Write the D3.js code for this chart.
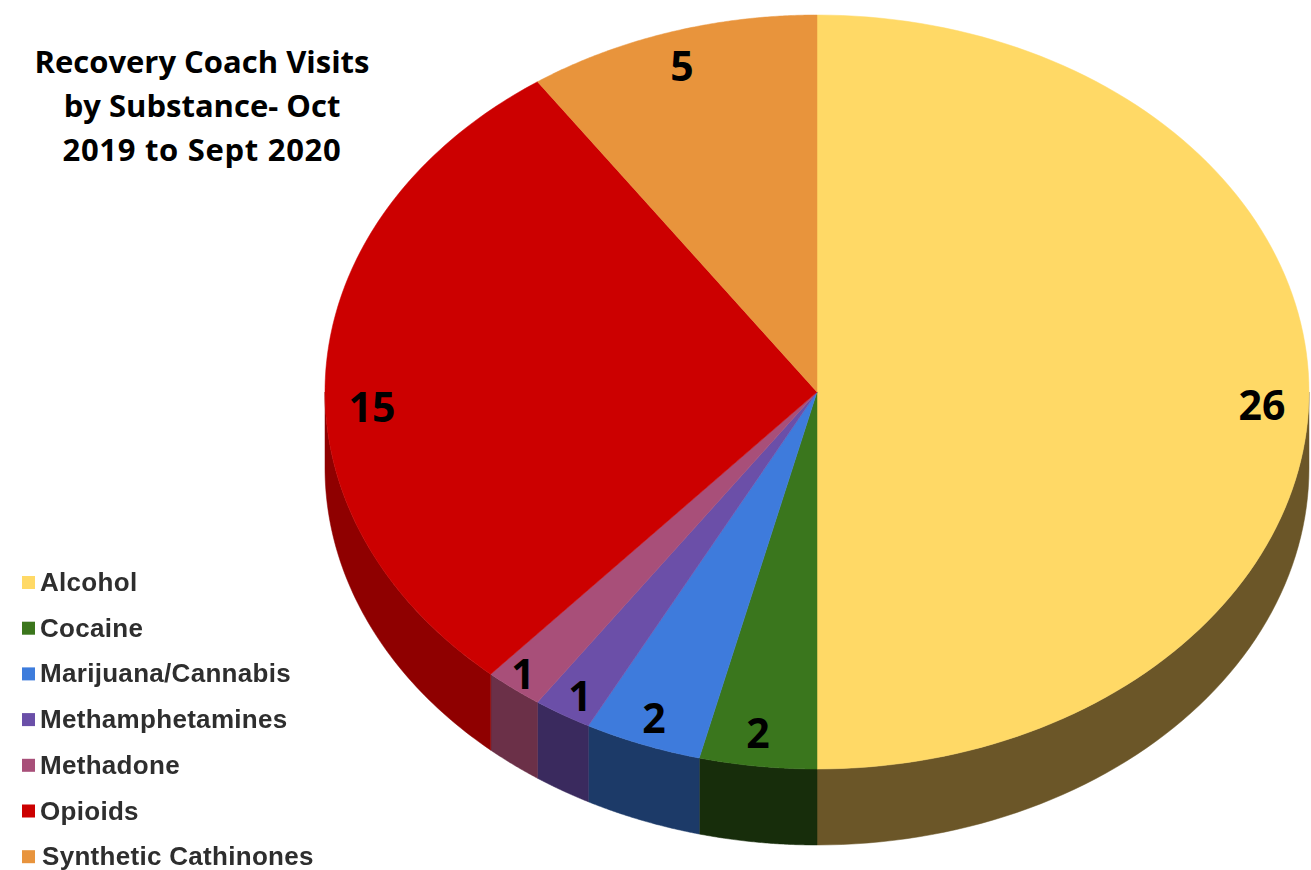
<!DOCTYPE html>
<html><head><meta charset="utf-8">
<script src="https://cdn.jsdelivr.net/npm/d3@7"></script>
<style>html,body{margin:0;background:#fff}svg{display:block}text{font-family:"Open Sans",sans-serif}</style>
</head><body><svg id="c" width="1311" height="870"></svg>
<script>
const categories=["Alcohol","Cocaine","Marijuana/Cannabis","Methamphetamines","Methadone","Opioids","Synthetic Cathinones"];
const visits=[26,2,2,1,1,15,5];
const colors=["#ffd966","#3a761d","#3e7bdc","#6b4fa8","#a84f79","#cc0000","#e8943c"];
const sideColors=["#6b5628","#172d0b","#1c3a68","#3a2a5e","#6b3048","#8f0000","#a86a28"];
const titleLines=["Recovery Coach Visits","by Substance- Oct","2019 to Sept 2020"];
const titleSpacing=[0,0,0.7];

const svg=d3.select("#c");
const defs=svg.append("defs");
defs.append("filter").attr("id","soft").append("feGaussianBlur").attr("stdDeviation",0.7);

const cx=817,cy=392,rx=492,ry=377,depth=76;
const px=a=>cx+rx*Math.sin(a), py=a=>cy-ry*Math.cos(a);
const slices=d3.pie().sort(null)(visits);

// extruded rim: only the part of each slice on the near side is visible
const rimLayer=svg.append("g");
slices.forEach((d,i)=>{
  const a0=Math.max(d.startAngle,Math.PI/2), a1=Math.min(d.endAngle,Math.PI*1.5);
  if(a1<=a0) return;
  const pts=d3.range(0,61).map(k=>a0+(a1-a0)*k/60);
  const upper=pts.map(a=>[px(a),py(a)]);
  const lower=pts.slice().reverse().map(a=>[px(a),py(a)+depth]);
  rimLayer.append("path").attr("d",d3.line()(upper.concat(lower))+"Z")
    .attr("fill",sideColors[i]).attr("stroke",sideColors[i]).attr("stroke-width",0.5);
});

// top face of the pie, an elliptical projection of the d3 angles
const faceLayer=svg.append("g");
slices.forEach((d,i)=>{
  const pts=d3.range(0,121).map(k=>{const a=d.startAngle+(d.endAngle-d.startAngle)*k/120;return [px(a),py(a)];});
  faceLayer.append("path").attr("d",d3.line()([[cx,cy],...pts])+"Z")
    .attr("fill",colors[i]).attr("stroke",colors[i]).attr("stroke-width",0.5);
});

// value labels
const labelPos=[[1262,405],[758,733],[654,718],[580,696],[523,674],[372,407],[682,66]];
svg.append("g").selectAll("text").data(visits).join("text")
  .attr("x",(d,i)=>labelPos[i][0]).attr("y",(d,i)=>labelPos[i][1]).attr("dy","0.36em")
  .attr("text-anchor","middle").attr("font-size",41).attr("font-weight",700).attr("fill","#000").text(d=>d);

// title
svg.append("g").selectAll("text").data(titleLines).join("text")
  .attr("x",202).attr("y",(d,i)=>73+i*44).attr("text-anchor","middle")
  .attr("letter-spacing",(d,i)=>titleSpacing[i])
  .attr("font-size",31).attr("font-weight",700).attr("fill","#000").text(d=>d);

// legend, slightly softened like an enlarged raster key
const lg=svg.append("g").attr("filter","url(#soft)").selectAll("g").data(categories).join("g")
  .attr("transform",(d,i)=>`translate(22,${582+i*45.7})`);
lg.append("rect").attr("x",0).attr("y",-6).attr("width",13).attr("height",13).attr("fill",(d,i)=>colors[i]);
lg.append("text").attr("x",(d,i)=>i===6?20:18).attr("y",9).attr("font-size",26).attr("font-weight",700)
  .attr("letter-spacing",0.3)
  .style("font-family","'Liberation Sans',sans-serif").attr("fill","#2e2e2e").text(d=>d);
</script></body></html>
